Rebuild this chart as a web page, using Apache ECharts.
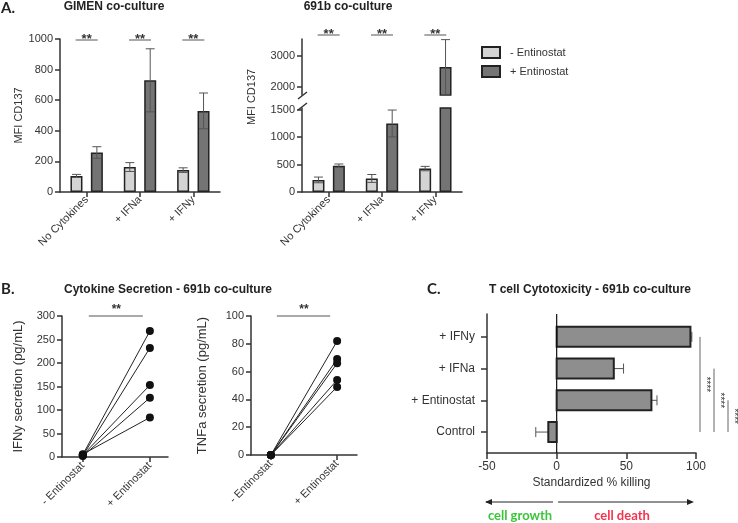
<!DOCTYPE html>
<html><head><meta charset="utf-8">
<script src="https://cdn.jsdelivr.net/npm/echarts@6/dist/echarts.min.js"></script>
<style>html,body{margin:0;padding:0;background:#fff}#c{width:738px;height:523px}</style>
</head><body><div id="c"></div>
<script>
// ---------- Panel A data ----------
const groupsA = ['No Cytokines', '+ IFNa', '+ IFNy'];
const legendNames = ['- Entinostat', '+ Entinostat'];
const gimenMinus = [105, 163, 143];
const gimenMinusErr = [10, 29, 15];
const gimenPlus = [258, 730, 530];
const gimenPlusErr = [38, 206, 117];
const b691Minus = [220, 247, 427];
const b691MinusErr = [52, 72, 40];
const b691Plus = [478, 1248, 2650];
const b691PlusErr = [32, 245, 880];
const gimenTicks = [0, 200, 400, 600, 800, 1000];
const b691LowTicks = [0, 500, 1000, 1500];
const b691HighTicks = [2000, 3000];
const sigA = ['**', '**', '**'];
// ---------- Panel B data ----------
const pairCats = ['- Entinostat', '+ Entinostat'];
const ifnyPre = [5, 3, 4, 2, 6];
const ifnyPost = [268, 232, 153, 126, 84];
const tnfaPre = [0, 0, 0, 0, 0];
const tnfaPost = [82, 69, 66, 54, 49];
const ifnyTicks = [0, 50, 100, 150, 200, 250, 300];
const tnfaTicks = [0, 20, 40, 60, 80, 100];
// ---------- Panel C data ----------
const cytoCats = ['+ IFNy', '+ IFNa', '+ Entinostat', 'Control'];
const killing = [96, 41, 68, -6];
const killingErr = [1, 7, 4, 9];
const killingTicks = [-50, 0, 50, 100];
const cytoSig = [[0, 3], [1, 3], [2, 3]];

const FONT = '"Liberation Sans", Arial, sans-serif';
const AX = '#333';
const LIGHT = '#d4d4d4', DARK = '#747474', BORDER = '#222';
const plain = (v) => String(v);
const lbl = (o) => Object.assign({fontFamily: FONT, color: '#333', fontSize: 11}, o || {});
const axLine = {show: true, onZero: false, lineStyle: {color: AX, width: 1.5}};
const axTick = (o) => Object.assign({show: true, length: 5, lineStyle: {color: AX, width: 1.5}}, o || {});

// ranges (layout)
const GIMEN_MAX = 1000, LOW_MAX = 1530, HIGH_MIN = 1750, HIGH_MAX = 3550;

function errBars(offset, color, capW) {
  return function (params, api) {
    const c = api.value(0), lo = api.value(1), hi = api.value(2);
    const a = api.coord([c, lo]), b = api.coord([c, hi]);
    const x = a[0] + offset;
    const st = {stroke: color, lineWidth: 1};
    return {type: 'group', children: [
      {type: 'line', shape: {x1: x, y1: a[1], x2: x, y2: b[1]}, style: st},
      {type: 'line', shape: {x1: x - capW, y1: b[1], x2: x + capW, y2: b[1]}, style: st},
      {type: 'line', shape: {x1: x - capW, y1: a[1], x2: x + capW, y2: a[1]}, style: st}
    ]};
  };
}
function errData(m, e) { return m.map((v, i) => [i, v - e[i], v + e[i]]); }

function sigARender(yVal, dy) {
  return function (params, api) {
    const i = api.value(0);
    const p = api.coord([i, yVal]);
    const y = p[1] + dy;
    return {type: 'group', children: [
      {type: 'line', shape: {x1: p[0] - 11, y1: y, x2: p[0] + 11, y2: y}, style: {stroke: '#555', lineWidth: 1}},
      {type: 'text', style: {text: sigA[i], x: p[0], y: y - 1, align: 'center', verticalAlign: 'middle', font: 'bold 13px ' + FONT, fill: '#333'}}
    ]};
  };
}

function sigBRender(yVal) {
  return function (params, api) {
    const a = api.coord([api.value(0), yVal]), b = api.coord([api.value(1), yVal]);
    return {type: 'group', children: [
      {type: 'line', shape: {x1: a[0] + 6, y1: a[1], x2: b[0] - 7, y2: b[1]}, style: {stroke: '#555', lineWidth: 1}},
      {type: 'text', style: {text: '**', x: (a[0] + b[0]) / 2, y: a[1] - 6, align: 'center', verticalAlign: 'middle', font: 'bold 12px ' + FONT, fill: '#333'}}
    ]};
  };
}

function cytoBar(params, api) {
  const v = api.value(0), i = api.value(1), e = api.value(2);
  const p0 = api.coord([0, i]), p1 = api.coord([v, i]);
  const pe = api.coord([v + (v < 0 ? -e : e), i]);
  const h = 20;
  const children = [
    {type: 'line', shape: {x1: p1[0], y1: p1[1], x2: pe[0], y2: pe[1]}, style: {stroke: '#555', lineWidth: 1}},
    {type: 'line', shape: {x1: pe[0], y1: pe[1] - 5, x2: pe[0], y2: pe[1] + 5}, style: {stroke: '#555', lineWidth: 1}},
    {type: 'rect', shape: {x: Math.min(p0[0], p1[0]), y: p0[1] - h / 2, width: Math.abs(p1[0] - p0[0]), height: h},
      style: {fill: '#8e8e8e', stroke: '#222', lineWidth: 2}}
  ];
  if (params.dataIndex === 0) {
    const cs = params.coordSys;
    children.push({type: 'line', shape: {x1: p0[0], y1: cs.y, x2: p0[0], y2: cs.y + cs.height}, style: {stroke: '#111', lineWidth: 1.2}});
  }
  return {type: 'group', children};
}

function cytoSigRender(params, api) {
  const top = api.value(0), bot = api.value(1), k = params.dataIndex;
  const pt = api.coord([100, top]), pb = api.coord([100, bot]);
  const x = pt[0] + 4 + k * 14;
  return {type: 'group', children: [
    {type: 'line', shape: {x1: x, y1: pt[1], x2: x, y2: pb[1]}, style: {stroke: '#666', lineWidth: 1}},
    {type: 'text', x: x + 6, y: (pt[1] + pb[1]) / 2, rotation: -Math.PI / 2,
      style: {text: '****', x: 0, y: 0, align: 'center', verticalAlign: 'middle', font: '10px ' + FONT, fill: '#333'}}
  ]};
}

function pairSeries(pre, post, xi, yi) {
  return pre.map((p, i) => ({
    type: 'line', xAxisIndex: xi, yAxisIndex: yi, data: [[0, p], [1, post[i]]],
    symbol: 'circle', symbolSize: 8, itemStyle: {color: '#111'}, lineStyle: {color: '#222', width: 1},
    clip: false, z: 3, silent: true
  }));
}

const barCommon = {type: 'bar', barWidth: 12, barGap: '70%'};
const lightStyle = {color: LIGHT, borderColor: BORDER, borderWidth: 1.5};
const darkStyle = {color: DARK, borderColor: BORDER, borderWidth: 1.5};

const option = {
  animation: false,
  backgroundColor: '#fff',
  grid: [
    {left: 60, top: 39, width: 160, height: 153, outerBoundsMode: 'none'},
    {left: 302, top: 108, width: 160, height: 84, outerBoundsMode: 'none'},
    {left: 302, top: 39, width: 160, height: 56, outerBoundsMode: 'none'},
    {left: 62, top: 316, width: 106, height: 141, outerBoundsMode: 'none'},
    {left: 251, top: 316, width: 106, height: 139, outerBoundsMode: 'none'},
    {left: 487, top: 314, width: 209, height: 139, outerBoundsMode: 'none'}
  ],
  legend: {
    data: legendNames, orient: 'vertical', left: 476, top: 41, itemWidth: 18, itemHeight: 11, itemGap: 6,
    icon: 'rect', selectedMode: false, textStyle: lbl({padding: [0, 0, 0, 5]})
  },
  xAxis: [
    {type: 'category', gridIndex: 0, data: groupsA, axisLine: axLine, axisTick: axTick({alignWithLabel: true}),
      axisLabel: lbl({rotate: 45, margin: 6})},
    {type: 'category', gridIndex: 1, data: groupsA, axisLine: axLine, axisTick: axTick({alignWithLabel: true}),
      axisLabel: lbl({rotate: 45, margin: 6})},
    {type: 'category', gridIndex: 2, data: groupsA, show: false},
    {type: 'value', gridIndex: 3, min: -0.31, max: 1.27, axisLine: axLine, splitLine: {show: false},
      axisTick: axTick({customValues: [0, 1]}),
      axisLabel: lbl({rotate: 45, margin: 7, customValues: [0, 1], formatter: (v) => pairCats[Math.round(v)]})},
    {type: 'value', gridIndex: 4, min: -0.3, max: 1.3, axisLine: axLine, splitLine: {show: false},
      axisTick: axTick({customValues: [0, 1]}),
      axisLabel: lbl({rotate: 45, margin: 7, customValues: [0, 1], formatter: (v) => pairCats[Math.round(v)]})},
    {type: 'value', gridIndex: 5, min: -50, max: 100, interval: 50, axisLine: axLine, splitLine: {show: false},
      axisTick: axTick({length: 6}), axisLabel: lbl({fontSize: 12, margin: 8, customValues: killingTicks, formatter: plain}),
      name: 'Standardized % killing', nameLocation: 'middle', nameGap: 24, nameTextStyle: lbl({fontSize: 12})}
  ],
  yAxis: [
    {type: 'value', gridIndex: 0, min: 0, max: GIMEN_MAX, axisLine: axLine, splitLine: {show: false},
      axisTick: axTick({customValues: gimenTicks}), axisLabel: lbl({margin: 7, customValues: gimenTicks, formatter: plain}),
      name: 'MFI CD137', nameLocation: 'middle', nameRotate: 90, nameGap: 36, nameTextStyle: lbl({fontSize: 11})},
    {type: 'value', gridIndex: 1, min: 0, max: LOW_MAX, axisLine: axLine, splitLine: {show: false},
      axisTick: axTick({customValues: b691LowTicks}), axisLabel: lbl({margin: 7, customValues: b691LowTicks, formatter: plain})},
    {type: 'value', gridIndex: 2, min: HIGH_MIN, max: HIGH_MAX, axisLine: axLine, splitLine: {show: false},
      axisTick: axTick({customValues: b691HighTicks}), axisLabel: lbl({margin: 7, customValues: b691HighTicks, formatter: plain})},
    {type: 'value', gridIndex: 3, min: 0, max: 300, axisLine: axLine, splitLine: {show: false},
      axisTick: axTick({customValues: ifnyTicks}), axisLabel: lbl({margin: 7, customValues: ifnyTicks, formatter: plain}),
      name: 'IFNy secretion (pg/mL)', nameLocation: 'middle', nameRotate: 90, nameGap: 37, nameTextStyle: lbl({fontSize: 13})},
    {type: 'value', gridIndex: 4, min: 0, max: 100, axisLine: axLine, splitLine: {show: false},
      axisTick: axTick({customValues: tnfaTicks}), axisLabel: lbl({margin: 7, customValues: tnfaTicks, formatter: plain}),
      name: 'TNFa secretion (pg/mL)', nameLocation: 'middle', nameRotate: 90, nameGap: 42, nameTextStyle: lbl({fontSize: 13})},
    {type: 'value', gridIndex: 5, min: -0.72, max: 3.66, inverse: true, axisLine: axLine, splitLine: {show: false},
      axisTick: axTick({length: 6, customValues: [0, 1, 2, 3]}),
      axisLabel: lbl({fontSize: 12, margin: 12, customValues: [0, 1, 2, 3], formatter: (v) => cytoCats[Math.round(v)]})}
  ],
  series: [
    // GIMEN
    Object.assign({}, barCommon, {name: legendNames[0], xAxisIndex: 0, yAxisIndex: 0, data: gimenMinus, itemStyle: lightStyle}),
    Object.assign({}, barCommon, {name: legendNames[1], xAxisIndex: 0, yAxisIndex: 0, data: gimenPlus, itemStyle: darkStyle}),
    {type: 'custom', xAxisIndex: 0, yAxisIndex: 0, renderItem: errBars(-10.2, '#555', 4.5), data: errData(gimenMinus, gimenMinusErr), clip: true, z: 5},
    {type: 'custom', xAxisIndex: 0, yAxisIndex: 0, renderItem: errBars(10.2, '#555', 4.5), data: errData(gimenPlus, gimenPlusErr), clip: true, z: 5},
    {type: 'custom', xAxisIndex: 0, yAxisIndex: 0, renderItem: sigARender(GIMEN_MAX, 1), data: groupsA.map((g, i) => [i]), clip: false, z: 5},
    // 691b lower
    Object.assign({}, barCommon, {name: legendNames[0], xAxisIndex: 1, yAxisIndex: 1, data: b691Minus, itemStyle: lightStyle}),
    Object.assign({}, barCommon, {name: legendNames[1], xAxisIndex: 1, yAxisIndex: 1, data: b691Plus, itemStyle: darkStyle}),
    {type: 'custom', xAxisIndex: 1, yAxisIndex: 1, renderItem: errBars(-10.2, '#555', 4.5), data: errData(b691Minus, b691MinusErr), clip: true, z: 5},
    {type: 'custom', xAxisIndex: 1, yAxisIndex: 1, renderItem: errBars(10.2, '#555', 4.5), data: errData(b691Plus, b691PlusErr), clip: true, z: 5},
    // 691b upper
    Object.assign({}, barCommon, {name: legendNames[0], xAxisIndex: 2, yAxisIndex: 2, data: b691Minus.map(v => v > HIGH_MIN ? v : '-'), itemStyle: lightStyle}),
    Object.assign({}, barCommon, {name: legendNames[1], xAxisIndex: 2, yAxisIndex: 2, data: b691Plus.map(v => v > HIGH_MIN ? v : '-'), itemStyle: darkStyle}),
    {type: 'custom', xAxisIndex: 2, yAxisIndex: 2, renderItem: errBars(10.2, '#555', 4.5), data: errData(b691Plus, b691PlusErr), clip: true, z: 5},
    {type: 'custom', xAxisIndex: 2, yAxisIndex: 2, renderItem: sigARender(HIGH_MAX, -4), data: groupsA.map((g, i) => [i]), clip: false, z: 5},
    // Panel B
    ...pairSeries(ifnyPre, ifnyPost, 3, 3),
    ...pairSeries(tnfaPre, tnfaPost, 4, 4),
    {type: 'custom', xAxisIndex: 3, yAxisIndex: 3, renderItem: sigBRender(300), data: [[0, 1]], clip: false},
    {type: 'custom', xAxisIndex: 4, yAxisIndex: 4, renderItem: sigBRender(100), data: [[0, 1]], clip: false},
    // Panel C
    {type: 'custom', xAxisIndex: 5, yAxisIndex: 5, renderItem: cytoBar, data: killing.map((v, i) => [v, i, killingErr[i]]), clip: false, encode: {x: 0, y: 1}},
    {type: 'custom', xAxisIndex: 5, yAxisIndex: 5, renderItem: cytoSigRender, data: cytoSig, clip: false, encode: {x: -1, y: [0, 1]}}
  ],
  graphic: [
    {type: 'text', x: 1, y: 8, style: {text: 'A.', font: 'bold 15px Lato, sans-serif', fill: '#222', verticalAlign: 'middle'}},
    {type: 'text', x: 114, y: 7, style: {text: 'GIMEN co-culture', font: 'bold 12px ' + FONT, fill: '#222', align: 'center', verticalAlign: 'middle'}},
    {type: 'text', x: 348, y: 7, style: {text: '691b co-culture', font: 'bold 12px ' + FONT, fill: '#222', align: 'center', verticalAlign: 'middle'}},
    {type: 'text', x: 252, y: 97, rotation: Math.PI / 2, style: {text: 'MFI CD137', font: '11px ' + FONT, fill: '#333', align: 'center', verticalAlign: 'middle'}},
    {type: 'line', shape: {x1: 298, y1: 99, x2: 307, y2: 92}, style: {stroke: '#333', lineWidth: 1.5}},
    {type: 'line', shape: {x1: 298, y1: 110, x2: 307, y2: 103}, style: {stroke: '#333', lineWidth: 1.5}},
    {type: 'text', x: 1, y: 289, style: {text: 'B.', font: 'bold 15px Lato, sans-serif', fill: '#222', verticalAlign: 'middle'}},
    {type: 'text', x: 168, y: 290, style: {text: 'Cytokine Secretion - 691b co-culture', font: 'bold 12px ' + FONT, fill: '#222', align: 'center', verticalAlign: 'middle'}},
    {type: 'text', x: 427, y: 289, style: {text: 'C.', font: 'bold 15px Lato, sans-serif', fill: '#222', verticalAlign: 'middle'}},
    {type: 'text', x: 590, y: 290, style: {text: 'T cell Cytotoxicity - 691b co-culture', font: 'bold 12px ' + FONT, fill: '#222', align: 'center', verticalAlign: 'middle'}},
    {type: 'line', shape: {x1: 486, y1: 502, x2: 553, y2: 502}, style: {stroke: '#222', lineWidth: 1}},
    {type: 'polygon', shape: {points: [[485, 502], [492, 499], [492, 505]]}, style: {fill: '#222'}},
    {type: 'line', shape: {x1: 558, y1: 502, x2: 692, y2: 502}, style: {stroke: '#222', lineWidth: 1}},
    {type: 'polygon', shape: {points: [[694, 502], [687, 499], [687, 505]]}, style: {fill: '#222'}},
    {type: 'text', x: 520, y: 516, style: {text: 'cell growth', font: 'bold 13px Lato, sans-serif', fill: '#3cc43c', align: 'center', verticalAlign: 'middle'}},
    {type: 'text', x: 622, y: 516, style: {text: 'cell death', font: 'bold 13px Lato, sans-serif', fill: '#f5334f', align: 'center', verticalAlign: 'middle'}}
  ]
};
const chart = echarts.init(document.getElementById('c'));
chart.setOption(option);
</script>
</body></html>
